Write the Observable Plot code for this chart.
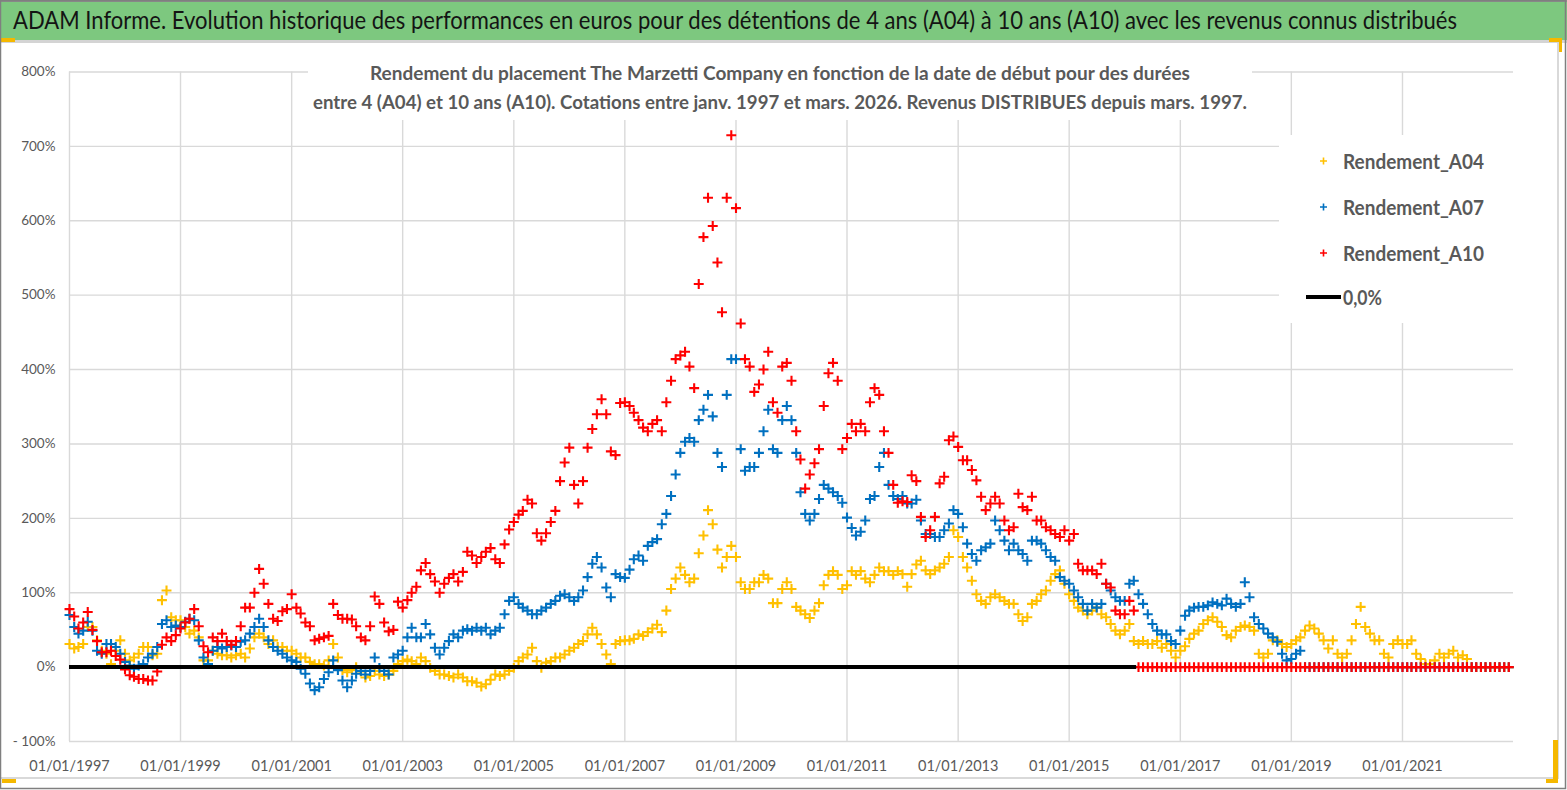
<!DOCTYPE html>
<html><head><meta charset="utf-8">
<script src="https://cdn.jsdelivr.net/npm/d3@7"></script>
<script src="https://cdn.jsdelivr.net/npm/@observablehq/plot@0.6"></script>
<style>
html,body{margin:0;padding:0;background:#fff;}
#page{position:relative;width:1567px;height:790px;overflow:hidden;background:#fff;font-family:Lato,"Open Sans",sans-serif;}
#chart{position:absolute;left:0;top:42px;}
#title,#overlay{position:absolute;left:0;top:0;}
#overlay{pointer-events:none;}
</style></head><body>
<div id="page">
<svg id="title" width="1567" height="42">
  <rect x="0" y="0" width="1567" height="40" fill="#7dc87f"/>
  <rect x="0" y="0" width="1567" height="2" fill="#8a8a8a"/>
  <text transform="translate(13,29) scale(1,1.12)" x="0" y="0" font-family="Lato" font-size="22" fill="#141414" textLength="1444" lengthAdjust="spacingAndGlyphs">ADAM Informe. Evolution historique des performances en euros pour des détentions de 4 ans (A04) à 10 ans (A10) avec les revenus connus distribués</text>
</svg>
<div id="chart"></div>
<svg id="overlay" width="1567" height="790">
  <rect x="0" y="40" width="1567" height="3" fill="#d4d4d4"/>
  <rect x="308" y="57" width="944" height="63" fill="#fff"/>
  <text x="780" y="80" text-anchor="middle" font-family="Lato" font-weight="bold" font-size="18" fill="#595959" textLength="820" lengthAdjust="spacingAndGlyphs">Rendement du placement The Marzetti Company en fonction de la date de début pour des durées</text>
  <text x="780" y="109" text-anchor="middle" font-family="Lato" font-weight="bold" font-size="18" fill="#595959" textLength="934" lengthAdjust="spacingAndGlyphs">entre 4 (A04) et 10 ans (A10). Cotations entre janv. 1997 et mars. 2026. Revenus DISTRIBUES depuis mars. 1997.</text>
  <g id="legend"></g>
  <rect x="1557" y="43" width="2" height="736" fill="#d9d9d9"/>
  <rect x="0" y="777" width="1559" height="2" fill="#d9d9d9"/>
  <rect x="0" y="38" width="15" height="4" fill="#f5b800"/>
  <rect x="1549" y="38" width="13" height="4" fill="#f5b800"/>
  <rect x="1559" y="38" width="3" height="14" fill="#f5b800"/>
  <rect x="2" y="779" width="14" height="4" fill="#f5b800"/>
  <rect x="1553" y="740" width="5" height="43" fill="#f5b800"/>
  <rect x="1546" y="779" width="12" height="4" fill="#f5b800"/>
  <rect x="0.5" y="0.5" width="1565" height="788" fill="none" stroke="#7f7f7f" stroke-width="1.5"/>
</svg>
</div>
<script>
// Monthly start dates from January 1997 (one value per month per series)
const startYear = 1997;
const xTickYears = [1997,1999,2001,2003,2005,2007,2009,2011,2013,2015,2017,2019,2021];
const yTicks = [-100,0,100,200,300,400,500,600,700,800];
const xDomain = ["1997-01-01","2023-01-01"];
const zeroLine = ["1997-01-01","2016-03-20"];
const seriesNames = ["Rendement_A04","Rendement_A07","Rendement_A10"];
const seriesColors = ["#FFC000","#0070C0","#FF0000"];

const A04 = [
31,25,27,31,54,54,36,22,18,4,22,36,
18,9,13,18,27,27,16,18,90,103,67,63,
63,54,45,49,40,9,9,22,18,16,16,13,
16,18,13,25,40,45,40,31,36,27,27,22,
22,18,13,13,7,4,4,2,9,31,13,-4,
-7,-4,0,-6,-14,-12,-5,-10,-12,-10,-5,4,
8,10,8,4,13,8,-1,-5,-10,-10,-12,-14,
-10,-14,-19,-19,-21,-26,-23,-17,-10,-12,-10,-5,
-1,8,13,17,26,8,-1,6,8,13,13,17,
22,26,31,35,44,53,44,31,17,4,31,35,
36,36,38,44,42,47,52,57,47,76,105,119,
134,124,114,119,153,177,211,192,158,134,148,163,
148,114,105,105,114,114,124,119,86,86,105,114,
105,81,76,71,66,76,86,110,124,129,124,105,
110,129,124,129,119,114,124,134,129,129,124,129,
125,108,125,138,143,130,125,130,134,139,148,184,
175,148,134,116,98,89,85,94,98,94,89,85,
85,71,62,67,85,89,98,103,116,125,130,112,
98,89,80,76,71,76,80,71,67,58,49,44,
49,58,35,31,35,31,31,35,26,31,22,13,
22,28,38,45,49,58,63,67,61,54,43,40,
49,54,56,54,49,18,13,18,36,36,31,27,
31,36,40,49,56,52,45,36,25,36,18,13,
18,36,58,81,54,45,36,36,18,13,31,36,
31,31,36,18,11,4,4,9,18,13,18,22,
13,16,11,0,0,0,0,0,0,0,0,0
];

const A07 = [
70,54,45,49,61,49,22,18,31,31,27,18,
7,2,-2,2,4,13,18,27,58,63,54,56,
54,61,65,63,36,13,4,22,27,25,27,29,
27,34,36,45,54,65,54,36,27,22,18,13,
9,7,-2,-9,-22,-31,-27,-16,-7,9,-4,-18,
-27,-18,-9,-5,-10,-5,13,-1,-5,-10,13,17,
22,40,53,40,40,58,44,26,17,26,35,44,
40,49,51,49,53,49,53,44,49,53,71,89,
94,85,80,76,71,71,76,80,85,89,96,98,
94,89,94,103,121,139,148,134,107,94,125,121,
120,131,145,150,143,163,168,172,192,206,230,259,
288,303,308,303,332,346,366,337,288,269,366,414,
414,293,264,269,269,288,317,346,293,288,332,351,
332,288,235,206,197,206,226,245,240,235,230,221,
201,187,177,182,197,226,230,269,288,245,230,226,
230,220,220,225,197,179,179,175,175,184,193,211,
206,188,166,152,143,157,161,166,197,184,170,157,
166,157,152,143,170,170,166,157,148,143,121,116,
112,103,94,85,76,85,80,85,112,103,94,89,
89,112,116,98,85,71,58,49,44,44,35,31,
49,69,76,80,81,81,83,87,85,83,92,85,
81,85,114,94,67,58,52,45,40,34,18,9,
11,18,22,0,0,0,0,0,0,0,0,0,
0,0,0,0,0,0,0,0,0,0,0,0,
0,0,0,0,0,0,0,0,0,0,0,0,
0,0,0,0,0,0,0,0,0,0,0,0
];

const A10 = [
78,68,52,60,74,50,35,20,20,22,15,10,
-3,-11,-13,-16,-16,-18,-18,-6,30,40,35,43,
52,60,65,78,55,28,20,40,35,45,35,30,
35,55,80,80,100,132,112,85,65,62,75,78,
98,80,72,60,55,36,38,40,42,85,70,65,
65,64,55,40,36,55,95,85,60,48,50,88,
80,90,100,108,130,140,125,115,100,112,120,125,
115,128,155,150,140,148,155,160,145,140,165,185,
195,205,210,225,220,180,170,180,195,210,250,275,
295,245,220,250,295,320,340,360,340,290,285,355,
356,351,342,332,322,317,327,332,317,356,385,414,
419,424,404,375,515,578,631,593,544,477,631,715,
617,462,414,404,370,380,400,424,356,342,404,409,
385,317,279,240,259,274,293,351,395,409,385,293,
308,327,317,327,317,356,375,366,317,288,245,221,
223,222,258,250,202,175,184,202,247,256,305,310,
296,278,278,265,251,229,211,220,229,220,197,184,
188,233,215,211,229,197,197,188,184,179,175,184,
170,179,139,130,130,130,125,139,112,107,76,71,
71,89,76,0,0,0,0,0,0,0,0,0,
0,0,0,0,0,0,0,0,0,0,0,0,
0,0,0,0,0,0,0,0,0,0,0,0,
0,0,0,0,0,0,0,0,0,0,0,0,
0,0,0,0,0,0,0,0,0,0,0,0,
0,0,0,0,0,0,0,0,0,0,0,0,
0,0,0,0,0,0,0,0,0,0,0,0
];

const toPoints = (values) => values.map((v, i) => ({date: new Date(Date.UTC(startYear, i, 1)), value: v}));
const allSeries = [A04, A07, A10].map(toPoints);
const xTickDates = xTickYears.map(y => new Date(Date.UTC(y, 0, 1)));
const pct = d => d < 0 ? "- " + Math.abs(d) + "%" : d + "%";

const chart = Plot.plot({
  width: 1567,
  height: 748,
  marginLeft: 69,
  marginRight: 54,
  marginTop: 29.5,
  marginBottom: 49,
  style: {fontFamily: "Lato, sans-serif", color: "#595959", background: "transparent", overflow: "visible"},
  x: {type: "utc", domain: xDomain.map(d => new Date(d)), label: null},
  y: {domain: [yTicks[0], yTicks[yTicks.length - 1]], label: null},
  marks: [
    Plot.gridY(yTicks, {stroke: "#d9d9d9", strokeOpacity: 1, strokeWidth: 1.4}),
    Plot.gridX(xTickDates, {stroke: "#d9d9d9", strokeOpacity: 1, strokeWidth: 1.4}),
    Plot.axisY(yTicks, {tickSize: 0, tickPadding: 14, tickFormat: pct, fontSize: 13.5, fill: "#595959", label: null}),
    Plot.axisX(xTickDates, {tickSize: 0, tickPadding: 19, tickFormat: d => "01/01/" + d.getUTCFullYear(), fontSize: 14.5, fill: "#595959", label: null}),
    ...allSeries.map((pts, k) => Plot.dot(pts, {x: "date", y: "value", symbol: "plus", r: 3.3, stroke: seriesColors[k], strokeWidth: 2.1})),
    Plot.ruleY([0], {x1: new Date(zeroLine[0]), x2: new Date(zeroLine[1]), stroke: "#000", strokeWidth: 4})
  ]
});
document.getElementById("chart").appendChild(chart);

// Legend (drawn as part of the overlay)
const ns = "http://www.w3.org/2000/svg";
const lg = document.getElementById("legend");
function el(tag, attrs, text) {
  const e = document.createElementNS(ns, tag);
  for (const k in attrs) e.setAttribute(k, attrs[k]);
  if (text) e.textContent = text;
  lg.appendChild(e);
  return e;
}
el("rect", {x: 1279, y: 135, width: 236, height: 188, fill: "#fff"});
const legendY = [161, 207, 253];
seriesNames.forEach((name, k) => {
  const cy = legendY[k];
  el("path", {d: `M${1320},${cy}h7M${1323.5},${cy - 3.5}v7`, stroke: seriesColors[k], "stroke-width": 1.6, fill: "none"});
  el("text", {x: 1343, y: cy + 7.5, "font-family": "Lato", "font-weight": "bold", "font-size": 20, fill: "#595959", textLength: 141, lengthAdjust: "spacingAndGlyphs"}, name);
});
el("line", {x1: 1306, x2: 1341, y1: 297, y2: 297, stroke: "#000", "stroke-width": 4});
el("text", {x: 1343, y: 304.5, "font-family": "Lato", "font-weight": "bold", "font-size": 20, fill: "#595959", textLength: 39, lengthAdjust: "spacingAndGlyphs"}, "0,0%");
</script>
</body></html>
